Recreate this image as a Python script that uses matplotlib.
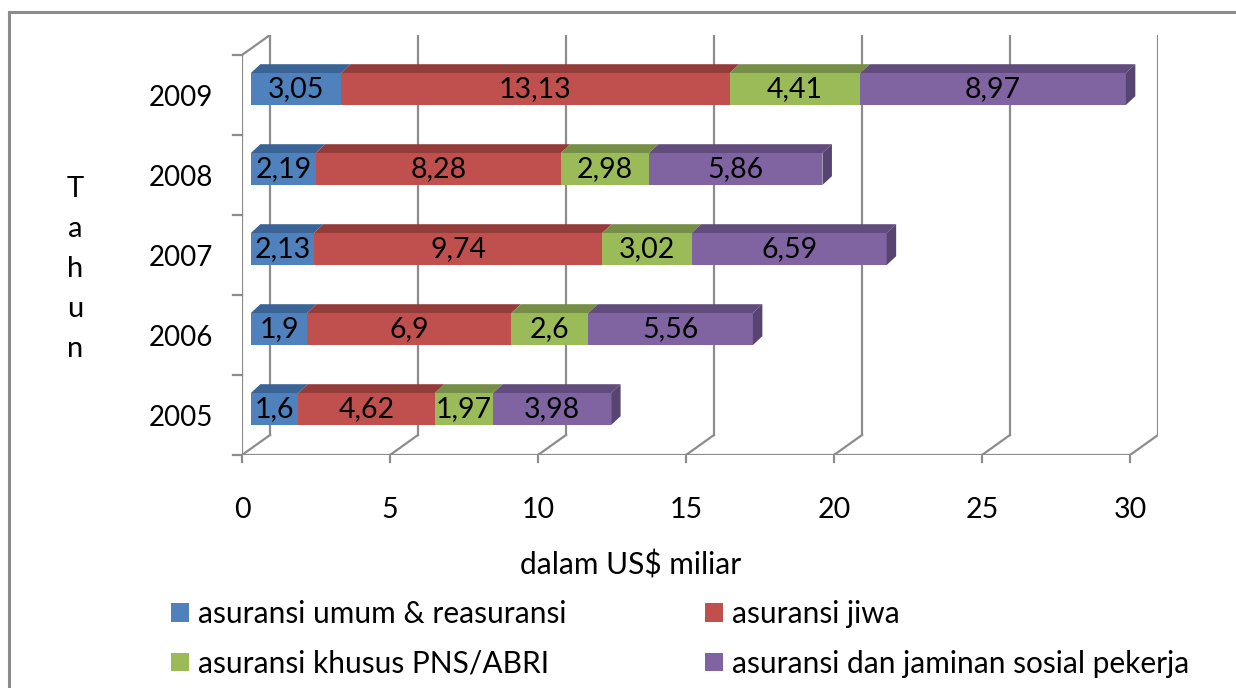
import matplotlib.pyplot as plt
from matplotlib.patches import Polygon, Rectangle

plt.rcParams['font.family'] = ['Lato', 'DejaVu Sans']

# premi per tahun, dalam US$ miliar
years = ['2005', '2006', '2007', '2008', '2009']
umum = [1.6, 1.9, 2.13, 2.19, 3.05]
jiwa = [4.62, 6.9, 9.74, 8.28, 13.13]
pns = [1.97, 2.6, 3.02, 2.98, 4.41]
sosial = [3.98, 5.56, 6.59, 5.86, 8.97]
series = [umum, jiwa, pns, sosial]
names = ['asuransi umum & reasuransi', 'asuransi jiwa',
         'asuransi khusus PNS/ABRI', 'asuransi dan jaminan sosial pekerja']
x_ticks = [0, 5, 10, 15, 20, 25, 30]

front = ['#4F81BD', '#C0504D', '#9BBB59', '#8064A2']
top = ['#3B6496', '#943C3A', '#768E45', '#624C7D']
side = '#574470'
grid = '#8C8C8C'

W, H = 1236, 688
fig = plt.figure(figsize=(W / 100, H / 100), dpi=100)
ax = fig.add_axes([242 / W, 1 - 455 / H, 916 / W, 420 / H])

# depth of the walls and of the bars, in data units
DX, DY = 28 / 29.6, 20 / 80
BX, BY = 0.30, 0.075
BDX, BDY = 0.32, 0.11
BH = 0.4
xmax = x_ticks[-1]
n = len(years)

ax.set_xlim(0, xmax + DX)
ax.set_ylim(-0.5, n - 0.5 + DY)

# back wall grid, floor diagonals and ticks
for t in x_ticks:
    ax.plot([t + DX, t + DX], [-0.5 + DY, n - 0.5 + DY], color=grid, lw=1.6, zorder=1)
    ax.plot([t, t + DX], [-0.5, -0.5 + DY], color=grid, lw=1.6, zorder=1)
    ax.plot([t, t], [-0.5, -0.5 - 0.09], color=grid, lw=1.6, zorder=1, clip_on=False)
ax.plot([0, xmax], [-0.5, -0.5], color=grid, lw=1.6, zorder=1)
ax.plot([0, 0], [-0.5, n - 0.5], color=grid, lw=1.6, zorder=1)
ax.plot([0, DX], [n - 0.5, n - 0.5 + DY], color=grid, lw=1.6, zorder=1)
for k in range(n + 1):
    ax.plot([-0.32, 0], [k - 0.5, k - 0.5], color=grid, lw=1.6, zorder=1, clip_on=False)

# stacked 3d bars
handles = []
for i in range(n):
    left = BX
    y0 = i + BY - BH / 2
    for s, vals in enumerate(series):
        v = vals[i]
        bars = ax.barh(i + BY, v, left=left, height=BH, color=front[s], zorder=3,
                       label=names[s] if i == 0 else None)
        if i == 0:
            handles.append(bars)
        ax.bar_label(bars, labels=[str(v).replace('.', ',')], label_type='center',
                     fontsize=20.5, color='black', zorder=5)
        ax.add_patch(Polygon([(left, y0 + BH), (left + v, y0 + BH),
                              (left + v + BDX, y0 + BH + BDY), (left + BDX, y0 + BH + BDY)],
                             closed=True, facecolor=top[s], edgecolor='none', zorder=3))
        left += v
    ax.add_patch(Polygon([(left, y0), (left, y0 + BH),
                          (left + BDX, y0 + BH + BDY), (left + BDX, y0 + BDY)],
                         closed=True, facecolor=side, edgecolor='none', zorder=3))

for sp in ax.spines.values():
    sp.set_visible(False)
ax.set_xticks(x_ticks, [str(t) for t in x_ticks])
ax.set_yticks(range(n), years)
ax.tick_params(axis='x', length=0, pad=30, labelsize=20.5)
ax.tick_params(axis='y', length=0, pad=21, labelsize=20)

fig.text(631 / W, 1 - 565 / H, 'dalam US$ miliar', fontsize=21.5, ha='center', va='center')
for k, ch in enumerate('Tahun'):
    fig.text(75 / W, 1 - (189 + 40 * k) / H, ch, fontsize=21, ha='center', va='center')

order = [0, 2, 1, 3]
ax.legend([handles[j] for j in order], [names[j] for j in order], ncol=2,
          loc='upper left', bbox_to_anchor=(171 / W, 1 - 600 / H),
          bbox_transform=fig.transFigure, frameon=False, fontsize=21.5,
          handlelength=0.59, handleheight=0.59, handletextpad=0.3,
          borderpad=0, borderaxespad=0, labelspacing=0.72, columnspacing=4.65)

fig.patches.append(Rectangle((9 / W, -0.05), 1.1, 1 - 12 / H + 0.05, transform=fig.transFigure,
                             fill=False, edgecolor=grid, lw=2.2))

fig.savefig('out.png', dpi=100)
